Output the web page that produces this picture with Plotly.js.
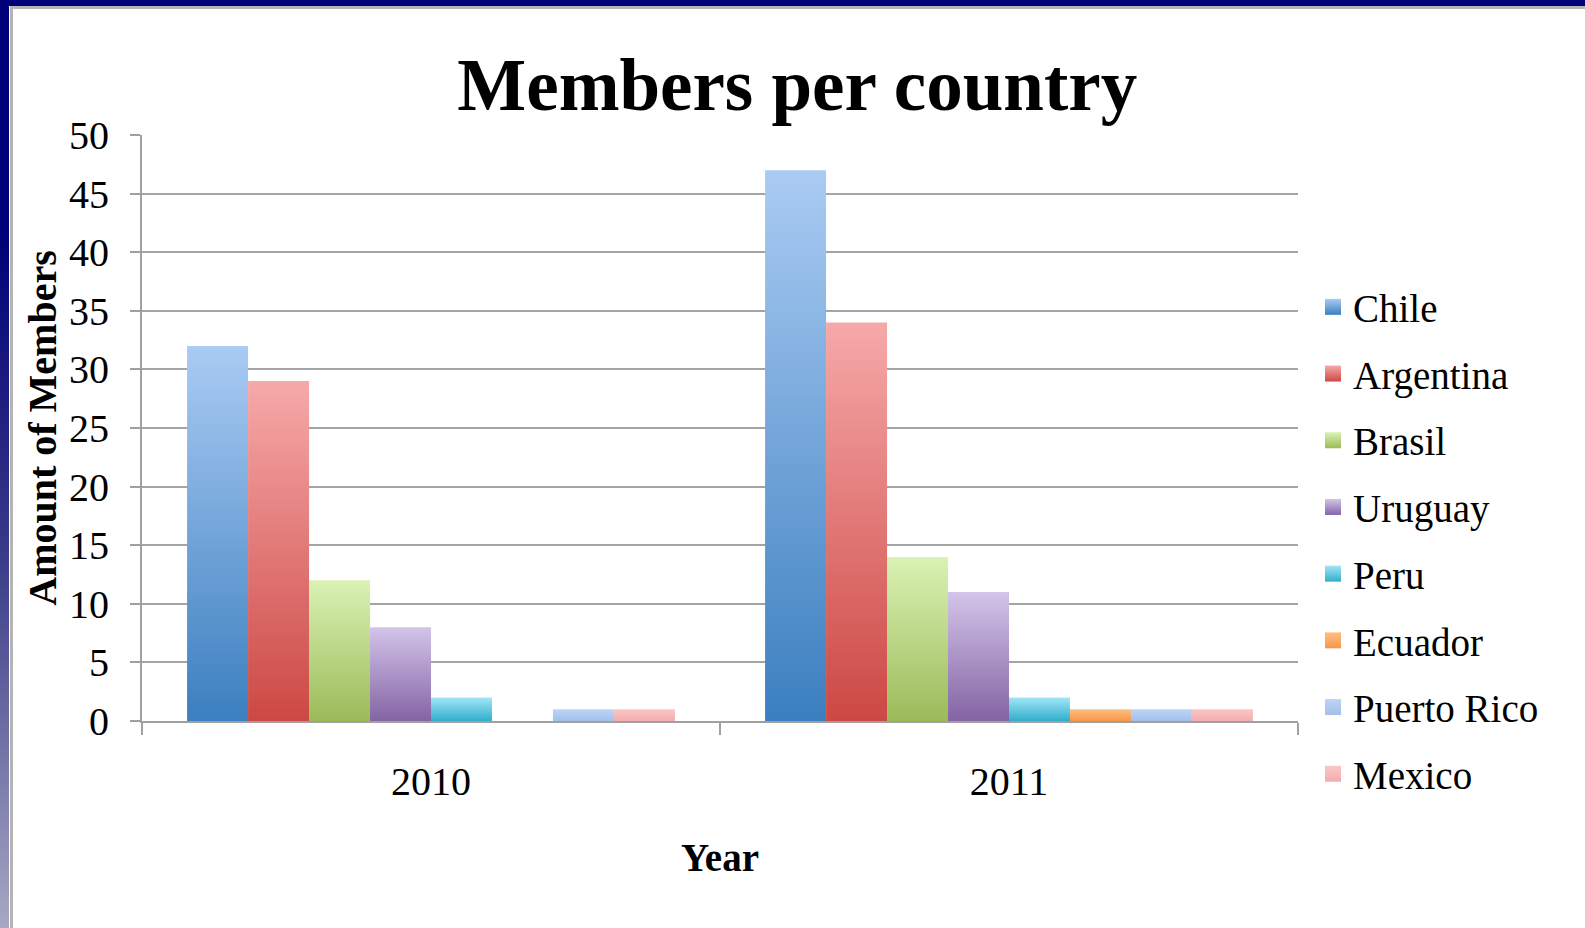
<!DOCTYPE html>
<html>
<head>
<meta charset="utf-8">
<script src="https://cdn.plot.ly/plotly-3.0.1.min.js"></script>
<style>
  html, body { margin: 0; padding: 0; width: 1585px; height: 928px; overflow: hidden; background: #ffffff; }
  #topband { position: absolute; left: 0; top: 0; width: 1585px; height: 6px; background: #000078; }
  #topline { position: absolute; left: 10px; top: 6px; width: 1575px; height: 3px; background: #b4b4b4; }
  #leftband { position: absolute; left: 0; top: 0; width: 9px; height: 928px;
              background: linear-gradient(to bottom, #000078 0%, #000078 25%, #3a3a88 60%, #a8a8c4 100%); }
  #leftline { position: absolute; left: 10px; top: 6px; width: 3px; height: 922px; background: #b4b4b4; }
  #chart { position: absolute; left: 0; top: 0; width: 1585px; height: 928px; }
</style>
</head>
<body>
<div id="topband"></div>
<div id="topline"></div>
<div id="leftband"></div>
<div id="leftline"></div>
<div id="chart"></div>
<script>
// ---- data ----
const years = ['2010', '2011'];
const countries = ['Chile', 'Argentina', 'Brasil', 'Uruguay', 'Peru', 'Ecuador', 'Puerto Rico', 'Mexico'];
const chile      = [32, 47];
const argentina  = [29, 34];
const brasil     = [12, 14];
const uruguay    = [8, 11];
const peru       = [2, 2];
const ecuador    = [0, 1];
const puertoRico = [1, 1];
const mexico     = [1, 1];
const yTicks = [0, 5, 10, 15, 20, 25, 30, 35, 40, 45, 50];

// ---- styles ----
const seriesValues = [chile, argentina, brasil, uruguay, peru, ecuador, puertoRico, mexico];
const topColors    = ['#aacbf3', '#f6a9a9', '#daf2b4', '#d3c4e9', '#a0e6f7', '#fdbf84', '#bcd5f6', '#fcc6c6'];
const bottomColors = ['#3b7fbf', '#cc4844', '#9bbb59', '#8464a4', '#31aecb', '#f79646', '#a4c0ea', '#f2adad'];
const FONT = '"Liberation Serif", "Times New Roman", serif';

const traces = countries.map((name, i) => ({
  type: 'bar',
  name: name,
  x: years,
  y: seriesValues[i],
  legendgroup: 'g' + i,
  marker: { color: bottomColors[i], line: { width: 0 } },
  hoverinfo: 'name+y'
}));

const layout = {
  width: 1585,
  height: 928,
  paper_bgcolor: 'rgba(0,0,0,0)',
  plot_bgcolor: 'rgba(0,0,0,0)',
  margin: { l: 142, r: 287, t: 135, b: 207, pad: 0 },
  font: { family: FONT, color: '#000000', size: 40 },
  title: {
    text: '<b>Members per country</b>',
    font: { family: FONT, size: 73, color: '#000000' },
    xref: 'container', yref: 'container',
    x: 0.503, xanchor: 'center',
    y: 1 - 84 / 928, yanchor: 'middle'
  },
  barmode: 'group',
  bargap: 0.156,
  bargroupgap: 0,
  showlegend: true,
  legend: {
    xref: 'container', yref: 'container',
    x: 1313 / 1585, xanchor: 'left',
    y: 1 - 275 / 928, yanchor: 'top',
    maxheight: 700,
    font: { family: FONT, size: 39, color: '#000000' },
    traceorder: 'grouped',
    tracegroupgap: 13,
    bgcolor: 'rgba(0,0,0,0)',
    itemclick: false, itemdoubleclick: false
  },
  xaxis: {
    type: 'category',
    title: { text: '<b>Year</b>', font: { family: FONT, size: 39 }, standoff: 41 },
    tickfont: { family: FONT, size: 40 },
    tickson: 'boundaries',
    ticks: 'outside', ticklen: 12, tickwidth: 2, tickcolor: '#a0a0a0',
    ticklabelstandoff: 24,
    showline: true, linecolor: '#a0a0a0', linewidth: 2,
    showgrid: false, zeroline: false,
    automargin: false, fixedrange: true
  },
  yaxis: {
    title: { text: '<b>Amount of Members</b>', font: { family: FONT, size: 40 }, standoff: 0 },
    range: [0, 50],
    tickmode: 'array', tickvals: yTicks, ticktext: yTicks.map(String),
    tickfont: { family: FONT, size: 40 },
    ticks: 'outside', ticklen: 10, tickwidth: 2, tickcolor: '#a0a0a0',
    ticklabelstandoff: 13,
    showline: true, linecolor: '#a0a0a0', linewidth: 2,
    showgrid: true, gridcolor: '#a4a4a4', gridwidth: 2,
    zeroline: false,
    automargin: false, fixedrange: true
  }
};

function applyGradients(gd) {
  const svg = gd.querySelector('svg.main-svg');
  const ns = 'http://www.w3.org/2000/svg';
  let defs = svg.querySelector('defs');
  if (!defs) { defs = document.createElementNS(ns, 'defs'); svg.insertBefore(defs, svg.firstChild); }
  countries.forEach((c, i) => {
    const lg = document.createElementNS(ns, 'linearGradient');
    lg.setAttribute('id', 'bargrad' + i);
    lg.setAttribute('x1', '0'); lg.setAttribute('y1', '0');
    lg.setAttribute('x2', '0'); lg.setAttribute('y2', '1');
    const s1 = document.createElementNS(ns, 'stop');
    s1.setAttribute('offset', '0%'); s1.setAttribute('stop-color', topColors[i]);
    const s2 = document.createElementNS(ns, 'stop');
    s2.setAttribute('offset', '100%'); s2.setAttribute('stop-color', bottomColors[i]);
    lg.appendChild(s1); lg.appendChild(s2);
    defs.appendChild(lg);
  });
  const barTraces = gd.querySelectorAll('.barlayer .trace');
  barTraces.forEach((t, i) => {
    t.querySelectorAll('path').forEach(p => { p.style.fill = 'url(#bargrad' + i + ')'; });
  });
  const legTraces = gd.querySelectorAll('.legend .traces');
  legTraces.forEach((t, i) => {
    t.querySelectorAll('.legendpoints path').forEach(p => {
      p.style.fill = 'url(#bargrad' + i + ')';
      p.setAttribute('d', 'M8,8H-8V-8H8Z');
      p.style.strokeWidth = '0';
    });
  });
}

Plotly.newPlot('chart', traces, layout, { displayModeBar: false, responsive: false })
  .then(gd => applyGradients(gd));
</script>
</body>
</html>
